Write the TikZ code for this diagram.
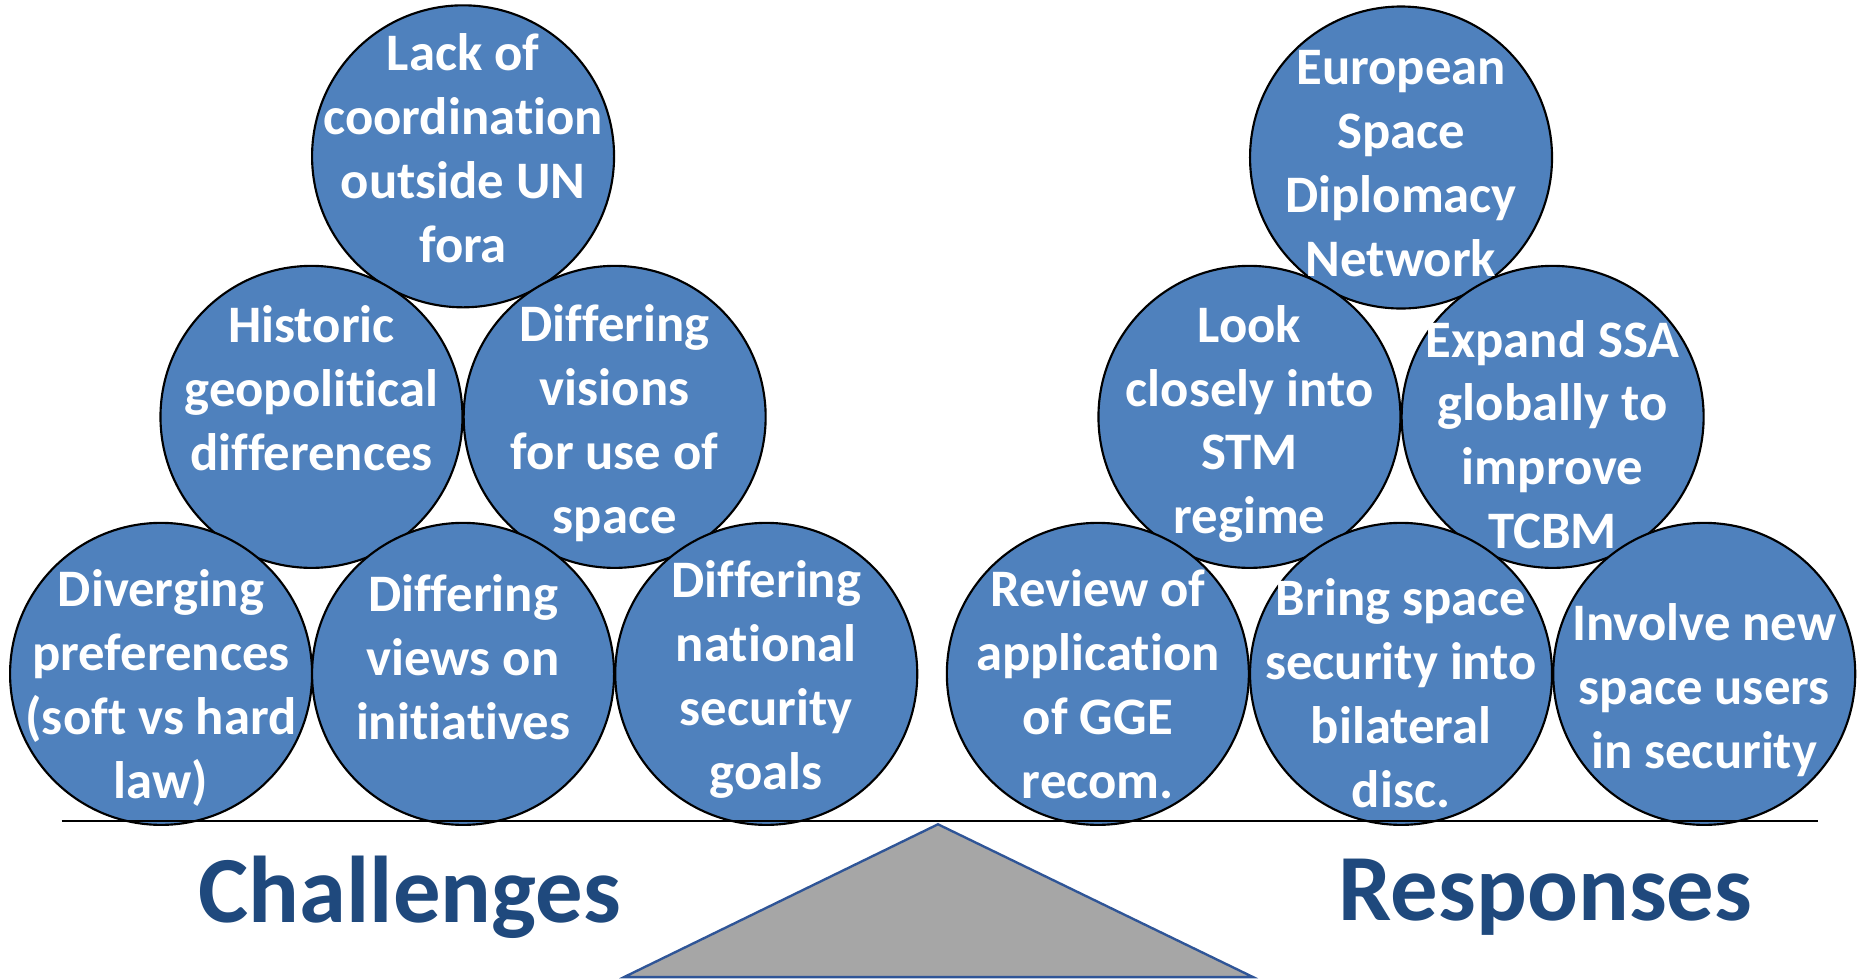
\documentclass[tikz,border=0pt]{standalone}
\usepackage{fontspec}
\setmainfont{Carlito}[Ligatures=NoCommon]
\usepackage{tikz}
\usetikzlibrary{positioning}

\definecolor{bubblefill}{HTML}{4F81BD}
\definecolor{headblue}{HTML}{1F497D}
\definecolor{pivotgray}{HTML}{A6A6A6}
\definecolor{pivotline}{HTML}{2F5597}

\begin{document}
\begin{tikzpicture}[x=1pt,y=-1pt,
		bubble/.style={circle, draw=black, line width=1.8pt, fill=bubblefill,
			minimum size=255pt, inner sep=0pt},
		bubtext/.style={text=white, align=center,
			font=\fontsize{44.5}{54}\selectfont\bfseries},
		side/.style={text=headblue, font=\fontsize{80}{96}\selectfont\bfseries}]
			\useasboundingbox (0,0) rectangle (1568,826);
			% challenges
			\node[bubble, label={[bubtext, yshift=7pt]center:Lack of\\coordination\\outside UN\\fora}] (c1) at (391,132) {};
			\node[bubble, label={[bubtext, yshift=24pt]center:Historic\\geopolitical\\differences}] (c2) at (263,352) {};
			\node[bubble, label={[bubtext, yshift=-5pt]center:Differing\\visions\\for use of\\space}] (c3) at (519,352) {};
			\node[bubble, label={[bubtext, yshift=-12pt]center:Diverging\\preferences\\(soft vs hard\\law)}] (c4) at (136,569) {};
			\node[bubble, label={[bubtext, yshift=14pt]center:Differing\\views on\\initiatives}] (c5) at (391,569) {};
			\node[bubble, label={[bubtext, yshift=-5pt]center:Differing\\national\\security\\goals}] (c6) at (647,569) {};
			% responses
			\node[bubble, label={[bubtext, yshift=-5pt]center:European\\Space\\Diplomacy\\Network}] (r1) at (1183,133) {};
			\node[bubble, label={[bubtext, yshift=-6pt]center:Look\\closely into\\STM\\regime}] (r2) at (1055,352) {};
			\node[bubble, label={[bubtext, yshift=-15pt]center:Expand SSA\\globally to\\improve\\TCBM}] (r3) at (1311,352) {};
			\node[bubble, label={[bubtext, yshift=-9pt]center:Review of\\application\\of GGE\\recom.}] (r4) at (927,569) {};
			\node[bubble, label={[bubtext, yshift=-16pt]center:Bring space\\security into\\bilateral\\disc.}] (r5) at (1183,569) {};
			\node[bubble, label={[bubtext, yshift=-14pt]center:Involve new\\space users\\in security}] (r6) at (1439,569) {};
			% beam and pivot
			\draw[line width=2pt] (52,693) -- (1535,693);
			\draw[fill=pivotgray, draw=pivotline, line width=2pt]
				(792,696) -- (1058,825) -- (527,825) -- cycle;
			\node[side] (chal) at (346,758) {Challenges};
			\node[side] (resp) at (1305,758) {Responses};
		\end{tikzpicture}
\end{document}
